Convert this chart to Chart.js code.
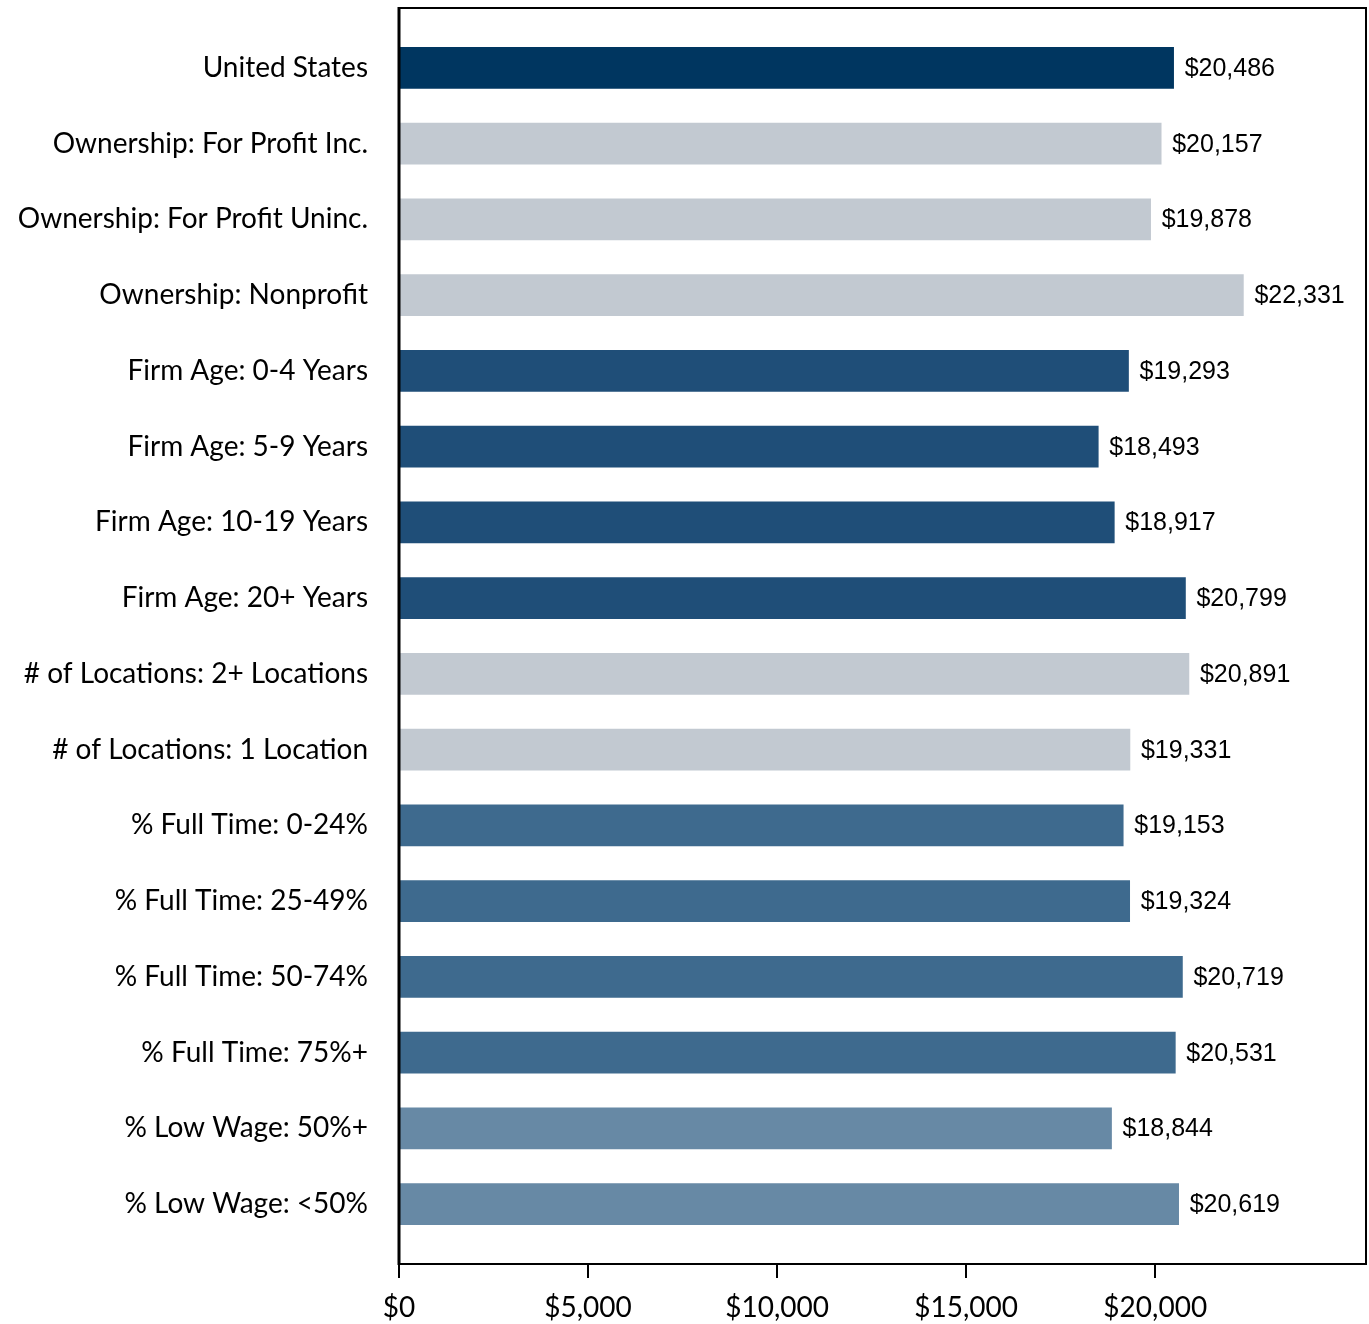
<!DOCTYPE html>
<html>
<head>
<meta charset="utf-8">
<script src="https://cdn.jsdelivr.net/npm/chart.js@4/dist/chart.umd.min.js"></script>
<style>
  html, body { margin: 0; padding: 0; background: #fff; }
  #wrap { width: 1369px; height: 1324px; }
</style>
</head>
<body>
<div id="wrap"><canvas id="barChart" width="1369" height="1324"></canvas></div>
<script>
// ===== Data =====
const categories = [
  'United States',
  'Ownership: For Profit Inc.',
  'Ownership: For Profit Uninc.',
  'Ownership: Nonprofit',
  'Firm Age: 0-4 Years',
  'Firm Age: 5-9 Years',
  'Firm Age: 10-19 Years',
  'Firm Age: 20+ Years',
  '# of Locations: 2+ Locations',
  '# of Locations: 1 Location',
  '% Full Time: 0-24%',
  '% Full Time: 25-49%',
  '% Full Time: 50-74%',
  '% Full Time: 75%+',
  '% Low Wage: 50%+',
  '% Low Wage: <50%'
];
const values = [20486, 20157, 19878, 22331, 19293, 18493, 18917, 20799,
                20891, 19331, 19153, 19324, 20719, 20531, 18844, 20619];
const groups = ['us', 'own', 'own', 'own', 'age', 'age', 'age', 'age',
                'loc', 'loc', 'ft', 'ft', 'ft', 'ft', 'wage', 'wage'];
const xTicks = [0, 5000, 10000, 15000, 20000];

const groupColors = {
  us: '#003660',
  own: '#c2c9d1',
  age: '#1f4e78',
  loc: '#c2c9d1',
  ft: '#3e6a8e',
  wage: '#6789a5'
};

const fmt = v => '$' + v.toLocaleString('en-US');
const EXTRA = 22; // box extends beyond the category band

// box, tick marks and value labels
const decor = {
  id: 'decor',
  afterDatasetsDraw(chart) {
    const { ctx, chartArea } = chart;
    const x = chart.scales.x;
    const top = chartArea.top - EXTRA, bottom = chartArea.bottom + EXTRA;
    ctx.save();
    ctx.strokeStyle = '#000';
    ctx.lineWidth = 2;
    ctx.strokeRect(chartArea.left, top, chartArea.right - chartArea.left - 1, bottom - top);
    ctx.lineWidth = 3;
    ctx.beginPath();
    ctx.moveTo(chartArea.left, top - 1);
    ctx.lineTo(chartArea.left, bottom + 1);
    ctx.stroke();
    ctx.lineWidth = 2;
    xTicks.forEach(t => {
      const px = Math.round(x.getPixelForValue(t));
      ctx.beginPath();
      ctx.moveTo(px, bottom);
      ctx.lineTo(px, bottom + 14);
      ctx.stroke();
    });
    // value labels
    ctx.fillStyle = '#000';
    ctx.font = '25px "Liberation Sans", Arial, sans-serif';
    ctx.textBaseline = 'middle';
    ctx.textAlign = 'left';
    chart.getDatasetMeta(0).data.forEach((bar, i) => {
      ctx.fillText(fmt(values[i]), bar.x + 11, bar.y + 1);
    });
    ctx.restore();
  }
};

const ctx = document.getElementById('barChart').getContext('2d');
const chart = new Chart(ctx, {
  type: 'bar',
  data: {
    labels: categories,
    datasets: [{
      data: values,
      backgroundColor: groups.map(g => groupColors[g]),
      borderWidth: 0,
      barThickness: 41
    }]
  },
  options: {
    indexAxis: 'y',
    responsive: false,
    animation: false,
    layout: { padding: { top: 30, right: 2, left: 0, bottom: 0 } },
    plugins: { legend: { display: false }, tooltip: { enabled: false } },
    scales: {
      x: {
        min: 0,
        max: 25600,
        afterBuildTicks: s => { s.ticks = xTicks.map(v => ({ value: v })); },
        afterFit: s => { s.height = 82; s.paddingLeft = 0; s.paddingRight = 0; },
        grid: { display: false, drawTicks: false },
        border: { display: false },
        ticks: {
          padding: 49,
          color: '#000',
          font: { family: 'Lato', size: 28 },
          maxRotation: 0,
          callback: v => fmt(v)
        }
      },
      y: {
        afterFit: s => { s.width = 399; s.paddingTop = 0; s.paddingBottom = 0; },
        grid: { display: false, drawTicks: false },
        border: { display: false },
        ticks: {
          padding: 31,
          color: '#000',
          font: { family: 'Lato', size: 28 }
        }
      }
    }
  },
  plugins: [decor]
});
</script>
</body>
</html>
